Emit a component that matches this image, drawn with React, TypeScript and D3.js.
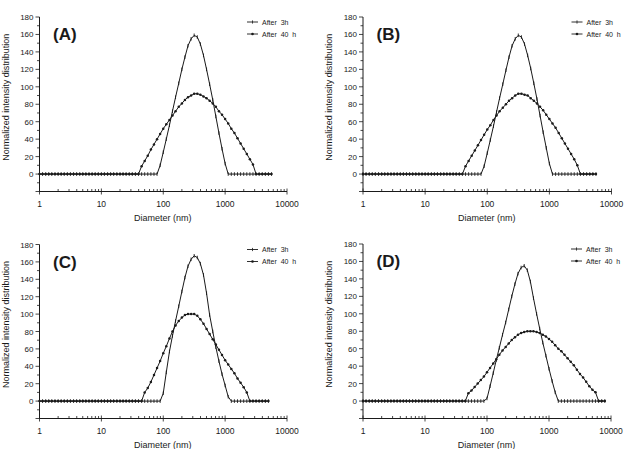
import { useEffect, useRef } from 'react';
import * as d3 from 'd3';

// size classes (nm), shared by all four runs
const diameters = [
  1, 1.12, 1.26, 1.41, 1.58, 1.78, 2, 2.24, 2.51, 2.82, 3.16, 3.55, 3.98, 4.47, 5.01, 5.62, 6.31, 7.08, 7.94, 8.91,
  10, 11.2, 12.6, 14.1, 15.8, 17.8, 20, 22.4, 25.1, 28.2, 31.6, 35.5, 39.8, 44.7, 50.1, 56.2, 63.1, 70.8, 79.4, 89.1,
  100, 112, 126, 141, 158, 178, 200, 224, 251, 282, 316, 355, 398, 447, 501, 562, 631, 708, 794, 891,
  1000, 1122, 1259, 1413, 1585, 1778, 1995, 2239, 2512, 2818, 3162, 3548, 3981, 4467, 5012, 5623, 6310, 7079, 7943
];

const a3h = [
  0, 0, 0, 0, 0, 0, 0, 0, 0, 0, 0, 0, 0, 0, 0, 0, 0, 0, 0, 0,
  0, 0, 0, 0, 0, 0, 0, 0, 0, 0, 0, 0, 0, 0, 0, 0, 0, 0, 0, 10,
  25, 40, 56, 72, 88, 104, 120, 134, 147, 155, 159, 157, 149, 136, 120, 103, 85, 66, 47, 29,
  12, 0, 0, 0, 0, 0, 0, 0, 0, 0, 0, 0, 0, 0, 0, 0
];
const a40h = [
  0, 0, 0, 0, 0, 0, 0, 0, 0, 0, 0, 0, 0, 0, 0, 0, 0, 0, 0, 0,
  0, 0, 0, 0, 0, 0, 0, 0, 0, 0, 0, 0, 0, 9, 15, 21, 28, 34, 40, 46,
  52, 57, 62, 67, 72, 77, 81, 85, 88, 90, 92, 92, 91, 89, 87, 84, 81, 77, 72, 68,
  63, 58, 52, 47, 41, 35, 29, 23, 17, 11, 0, 0, 0, 0, 0, 0
];
const b3h = [
  0, 0, 0, 0, 0, 0, 0, 0, 0, 0, 0, 0, 0, 0, 0, 0, 0, 0, 0, 0,
  0, 0, 0, 0, 0, 0, 0, 0, 0, 0, 0, 0, 0, 0, 0, 0, 0, 0, 0, 9,
  24, 39, 55, 71, 87, 103, 119, 134, 147, 155, 159, 157, 149, 136, 121, 104, 86, 67, 48, 30,
  12, 0, 0, 0, 0, 0, 0, 0, 0, 0, 0, 0, 0, 0, 0, 0
];
const b40h = [
  0, 0, 0, 0, 0, 0, 0, 0, 0, 0, 0, 0, 0, 0, 0, 0, 0, 0, 0, 0,
  0, 0, 0, 0, 0, 0, 0, 0, 0, 0, 0, 0, 0, 9, 15, 21, 27, 33, 39, 45,
  51, 56, 62, 67, 72, 76, 80, 84, 87, 90, 92, 92, 91, 90, 87, 84, 81, 77, 73, 68,
  63, 58, 53, 47, 41, 35, 29, 23, 17, 10, 0, 0, 0, 0, 0, 0
];
const c3h = [
  0, 0, 0, 0, 0, 0, 0, 0, 0, 0, 0, 0, 0, 0, 0, 0, 0, 0, 0, 0,
  0, 0, 0, 0, 0, 0, 0, 0, 0, 0, 0, 0, 0, 0, 0, 0, 0, 0, 0, 0,
  9, 33, 57, 75, 92, 109, 126, 142, 155, 163, 167, 165, 158, 145, 124, 99, 80, 62, 46, 31,
  18, 5, 0, 0, 0, 0, 0, 0, 0, 0, 0, 0, 0, 0, 0
];
const c40h = [
  0, 0, 0, 0, 0, 0, 0, 0, 0, 0, 0, 0, 0, 0, 0, 0, 0, 0, 0, 0,
  0, 0, 0, 0, 0, 0, 0, 0, 0, 0, 0, 0, 0, 0, 10, 15, 22, 30, 38, 46,
  55, 63, 72, 80, 87, 92, 96, 99, 100, 100, 100, 98, 94, 89, 83, 77, 71, 65, 59, 53,
  47, 42, 37, 32, 26, 21, 16, 10, 0, 0, 0, 0, 0, 0, 0
];
const d3h = [
  0, 0, 0, 0, 0, 0, 0, 0, 0, 0, 0, 0, 0, 0, 0, 0, 0, 0, 0, 0,
  0, 0, 0, 0, 0, 0, 0, 0, 0, 0, 0, 0, 0, 0, 0, 0, 0, 0, 0, 0,
  3, 17, 32, 47, 61, 76, 90, 105, 120, 134, 146, 153, 155, 150, 137, 118, 100, 83, 67, 52,
  37, 23, 10, 0, 0, 0, 0, 0, 0, 0, 0, 0, 0, 0, 0, 0, 0, 0, 0
];
const d40h = [
  0, 0, 0, 0, 0, 0, 0, 0, 0, 0, 0, 0, 0, 0, 0, 0, 0, 0, 0, 0,
  0, 0, 0, 0, 0, 0, 0, 0, 0, 0, 0, 0, 0, 0, 9, 12, 16, 20, 24, 28,
  33, 38, 43, 48, 53, 58, 62, 66, 70, 73, 76, 78, 79, 80, 80, 80, 79, 78, 76, 74,
  71, 68, 64, 60, 57, 53, 49, 45, 41, 36, 31, 27, 22, 17, 13, 10, 0, 0, 0
];

const xTicks = [1, 10, 100, 1000, 10000];
const yTicks = [0, 20, 40, 60, 80, 100, 120, 140, 160, 180];
const panelLabels = ['(A)', '(B)', '(C)', '(D)'];
const seriesNames = ['After  3h', 'After  40  h'];

const panels = [
  { left: 39.5, right: 287, top: 17, bottom: 191.5, label: panelLabels[0], s3: a3h, s40: a40h },
  { left: 363, right: 611.5, top: 17, bottom: 191.5, label: panelLabels[1], s3: b3h, s40: b40h },
  { left: 39.5, right: 287, top: 244.5, bottom: 418.5, label: panelLabels[2], s3: c3h, s40: c40h },
  { left: 363, right: 611, top: 244, bottom: 418.5, label: panelLabels[3], s3: d3h, s40: d40h }
];

const ink = '#1a1a1a';
const font = 'Liberation Sans, Arial, sans-serif';

export default function App() {
  const ref = useRef<SVGSVGElement>(null);

  useEffect(() => {
    const svg = d3.select(ref.current);
    svg.selectAll('*').remove();

    panels.forEach(p => {
      const x = d3.scaleLog().domain([1, 10000]).range([p.left, p.right]);
      const y = d3.scaleLinear().domain([-20, 180]).range([p.bottom, p.top]);
      const g = svg.append('g');

      // axis lines
      g.append('line')
        .attr('x1', p.left).attr('x2', p.left)
        .attr('y1', y(180)).attr('y2', p.bottom)
        .attr('stroke', ink).attr('stroke-width', 1);
      g.append('line')
        .attr('x1', p.left).attr('x2', p.right)
        .attr('y1', p.bottom).attr('y2', p.bottom)
        .attr('stroke', ink).attr('stroke-width', 1);

      // y ticks, major + minor
      const yMinor = d3.range(-20, 181, 10);
      g.selectAll('.ymin').data(yMinor).enter().append('line')
        .attr('x1', d => p.left - (d % 20 === 0 ? 4 : 2.5)).attr('x2', p.left)
        .attr('y1', d => y(d)).attr('y2', d => y(d))
        .attr('stroke', ink).attr('stroke-width', 0.8);
      g.selectAll('.ylab').data(yTicks).enter().append('text')
        .attr('x', p.left - 6).attr('y', d => y(d) + 3)
        .attr('text-anchor', 'end')
        .style('font-family', font).style('font-size', '8px').attr('fill', ink)
        .text(d => d);

      // x ticks: decades + minor 2..9
      const xMinor: number[] = [];
      xTicks.slice(0, -1).forEach(t => { for (let m = 2; m < 10; m++) xMinor.push(t * m); });
      g.selectAll('.xmin').data(xMinor).enter().append('line')
        .attr('x1', d => x(d)).attr('x2', d => x(d))
        .attr('y1', p.bottom - 2.5).attr('y2', p.bottom)
        .attr('stroke', ink).attr('stroke-width', 0.8);
      g.selectAll('.xmaj').data(xTicks).enter().append('line')
        .attr('x1', d => x(d)).attr('x2', d => x(d))
        .attr('y1', p.bottom - 3).attr('y2', p.bottom + 3)
        .attr('stroke', ink).attr('stroke-width', 0.8);
      g.selectAll('.xlab').data(xTicks).enter().append('text')
        .attr('x', d => x(d)).attr('y', p.bottom + 15)
        .attr('text-anchor', 'middle')
        .style('font-family', font).style('font-size', '8.5px').attr('fill', ink)
        .text(d => d);

      // axis titles
      g.append('text')
        .attr('x', (p.left + p.right) / 2 - 0.5).attr('y', p.bottom + 29.5)
        .attr('text-anchor', 'middle')
        .style('font-family', font).style('font-size', '9px').attr('fill', ink)
        .text('Diameter (nm)');
      g.append('text')
        .attr('transform', `translate(${p.left - 31},${(y(180) + p.bottom) / 2 - 7}) rotate(-90)`)
        .attr('text-anchor', 'middle')
        .style('font-family', font).style('font-size', '9px').attr('fill', ink)
        .text('Normalized intensity distribution');

      // panel letter
      g.append('text')
        .attr('x', p.left + 13.5).attr('y', y(180) + 23)
        .style('font-family', font).style('font-size', '17px').style('font-weight', 'bold')
        .attr('fill', ink)
        .text(p.label);

      // series
      const drawSeries = (vals: number[], kind: string) => {
        const line = d3.line<number>().x((_, i) => x(diameters[i])).y(v => y(v));
        g.append('path').datum(vals)
          .attr('d', line).attr('fill', 'none')
          .attr('stroke', ink).attr('stroke-width', 1);
        if (kind === '3h') {
          g.selectAll(null).data(vals).enter().append('line')
            .attr('x1', (_, i) => x(diameters[i])).attr('x2', (_, i) => x(diameters[i]))
            .attr('y1', v => y(v) - 1.8).attr('y2', v => y(v) + 1.8)
            .attr('stroke', ink).attr('stroke-width', 0.9);
        } else {
          g.selectAll(null).data(vals).enter().append('circle')
            .attr('cx', (_, i) => x(diameters[i])).attr('cy', v => y(v))
            .attr('r', 1.25).attr('fill', ink);
        }
      };
      drawSeries(p.s3, '3h');
      drawSeries(p.s40, '40h');

      // legend
      const lx = p.right - 40;
      [0, 1].forEach(k => {
        const ly = y(180) + 5 + k * 12;
        g.append('line')
          .attr('x1', lx).attr('x2', lx + 11).attr('y1', ly).attr('y2', ly)
          .attr('stroke', ink).attr('stroke-width', 0.9);
        if (k === 0) {
          g.append('line').attr('x1', lx + 5.5).attr('x2', lx + 5.5)
            .attr('y1', ly - 1.6).attr('y2', ly + 1.6).attr('stroke', ink).attr('stroke-width', 0.8);
        } else {
          g.append('circle').attr('cx', lx + 5.5).attr('cy', ly).attr('r', 1.3).attr('fill', ink);
        }
        g.append('text')
          .attr('x', lx + 15).attr('y', ly + 2.5)
          .attr('xml:space', 'preserve')
          .style('white-space', 'pre')
          .style('font-family', font).style('font-size', '7px').attr('fill', ink)
          .text(seriesNames[k]);
      });
    });
  }, []);

  return (
    <svg
      ref={ref}
      width={625}
      height={449}
      style={{ position: 'absolute', left: 0, top: 0, background: '#fff', display: 'block' }}
    />
  );
}
